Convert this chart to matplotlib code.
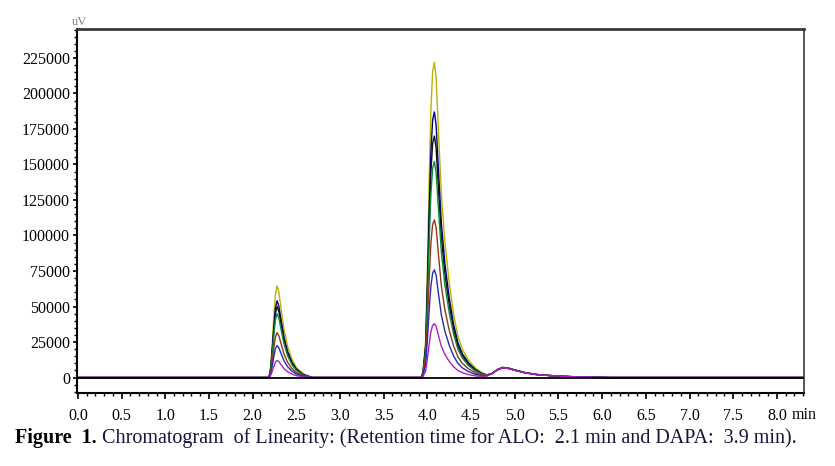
import numpy as np
import matplotlib
matplotlib.use('Agg')
import matplotlib.pyplot as plt
from matplotlib.ticker import MultipleLocator

plt.rcParams['font.family'] = ['Liberation Serif', 'DejaVu Serif']

# retention time grid (min)
time_min = [0.00, 2.18, 2.20, 2.22, 2.24, 2.26, 2.28, 2.30, 2.33, 2.36,
            2.40, 2.45, 2.50, 2.58, 2.68, 3.93, 3.95, 3.98, 4.00, 4.02,
            4.04, 4.06, 4.08, 4.10, 4.13, 4.16, 4.20, 4.25, 4.30, 4.35,
            4.40, 4.47, 4.55, 4.62, 4.68, 4.74, 4.80, 4.86, 4.93, 5.02,
            5.12, 5.25, 5.40, 5.55, 5.70, 5.90, 6.10, 8.30]

# relative peak shapes (1.0 = apex)
alo_shape = [0, 0, 0.05, 0.30, 0.62, 0.90, 1.00, 0.93, 0.72, 0.52,
             0.34, 0.20, 0.11, 0.04, 0, 0, 0, 0, 0, 0,
             0, 0, 0, 0, 0, 0, 0, 0, 0, 0,
             0, 0, 0, 0, 0, 0, 0, 0, 0, 0,
             0, 0, 0, 0, 0, 0, 0, 0]
dapa_shape = [0, 0, 0, 0, 0, 0, 0, 0, 0, 0,
              0, 0, 0, 0, 0, 0, 0.02, 0.12, 0.35, 0.62,
              0.85, 0.97, 1.00, 0.95, 0.76, 0.58, 0.43, 0.30, 0.20, 0.13,
              0.09, 0.055, 0.03, 0.015, 0.005, 0, 0, 0, 0, 0,
              0, 0, 0, 0, 0, 0, 0, 0]
imp_shape = [0, 0, 0, 0, 0, 0, 0, 0, 0, 0,
             0, 0, 0, 0, 0, 0, 0, 0, 0, 0,
             0, 0, 0, 0, 0, 0, 0, 0, 0, 0,
             0, 0, 0, 0.03, 0.12, 0.40, 0.78, 1.00, 0.92, 0.70,
             0.48, 0.30, 0.20, 0.12, 0.07, 0.03, 0, 0]

# peak heights per linearity level (uV)
alo_heights = [64600, 54000, 50000, 45000, 31600, 22500, 12000]
dapa_heights = [222000, 187000, 170000, 152000, 111000, 75800, 37900]
imp_heights = [7200, 7100, 7000, 7000, 6900, 6900, 6800]
line_colors = ['#bab400', '#000080', '#101010', '#0a8a3a', '#8b3a1a', '#2a2ab0', '#b020b8']

fig = plt.figure(figsize=(8.35, 4.66), dpi=100)
ax = fig.add_axes([77 / 835, 1 - 393 / 466, 727 / 835, 364 / 466])

t = np.array(time_min)
for a_h, d_h, i_h, c in zip(alo_heights, dapa_heights, imp_heights, line_colors):
    y = a_h * np.array(alo_shape) + d_h * np.array(dapa_shape) + i_h * np.array(imp_shape)
    ax.plot(t, y, color=c, lw=1.0, zorder=2)

# baseline
ax.plot([0.0, 8.30], [0, 0], color='black', lw=1.3, zorder=3)

ax.set_xlim(-0.01, 8.31)
ax.set_ylim(-10900, 245400)

ax.xaxis.set_minor_locator(MultipleLocator(0.1))
ax.yaxis.set_minor_locator(MultipleLocator(5000))
ax.set_xticks(np.arange(0, 8.01, 0.5))
ax.set_xticklabels([f"{v:.1f}" for v in np.arange(0, 8.01, 0.5)])
ax.set_yticks(np.arange(0, 225001, 25000))
ax.set_yticklabels([f"{int(v)}" for v in np.arange(0, 225001, 25000)])

ax.tick_params(axis='x', which='major', direction='out', length=4, width=1.2, pad=7, labelsize=11.5)
ax.tick_params(axis='x', which='minor', direction='out', length=2.5, width=1.0)
ax.tick_params(axis='y', which='major', direction='out', length=3, width=1.2, pad=2, labelsize=11.5)
ax.tick_params(axis='y', which='minor', direction='out', length=2, width=1.0)

for side in ['left', 'bottom']:
    ax.spines[side].set_linewidth(1.5)
    ax.spines[side].set_color('black')
ax.spines['top'].set_linewidth(2.0)
ax.spines['top'].set_color('#3a3a3a')
ax.spines['right'].set_linewidth(1.2)
ax.spines['right'].set_color('#3a3a3a')

# unit labels
fig.text(79 / 835, 1 - 22 / 466, 'uV', fontsize=9, color='#808080', ha='center', va='center')
fig.text(792 / 835, 1 - 415 / 466, 'min', fontsize=11.5, ha='left', va='center')

# caption
t1 = fig.text(15 / 835, 1 - 443 / 466, 'Figure  1.', fontsize=14.5, fontweight='bold',
              color='black', ha='left', va='baseline')
ax.annotate(' Chromatogram  of Linearity: (Retention time for ALO:  2.1 min and DAPA:  3.9 min).',
            xy=(1, 0), xycoords=t1, va='bottom', ha='left', fontsize=14.5, color='#14143c',
            annotation_clip=False)

fig.savefig('out.png', dpi=100)
